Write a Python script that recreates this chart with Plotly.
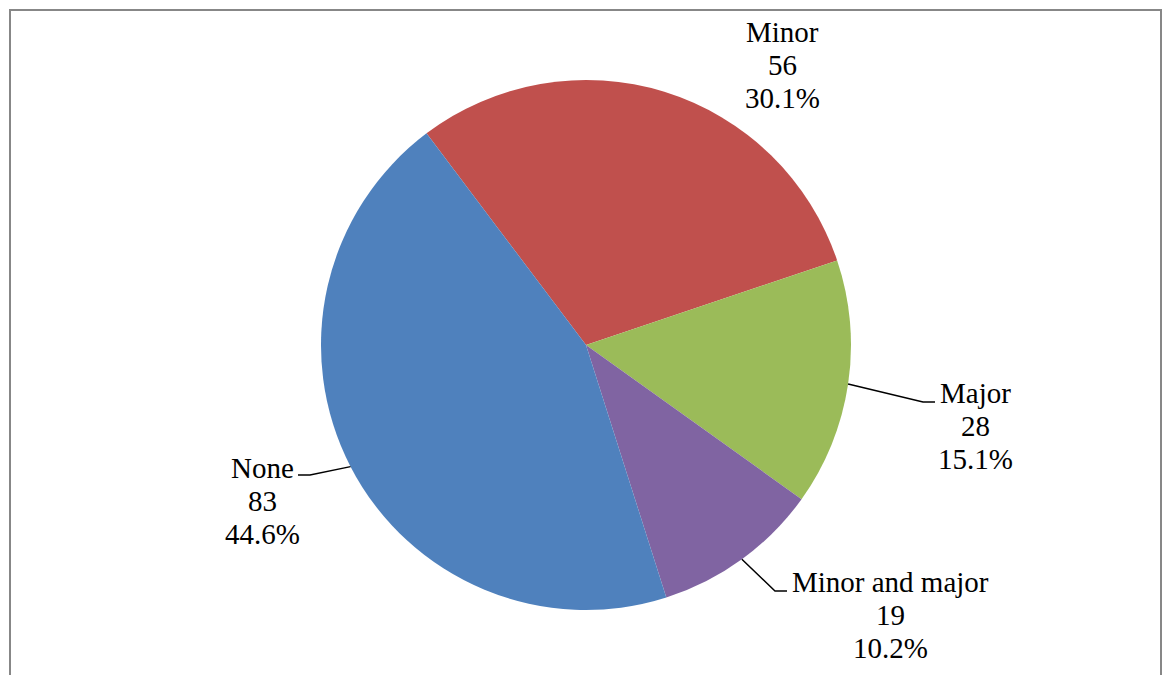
import math
import plotly.graph_objects as go

# Slice data (drawn clockwise starting from "Minor")
labels = ["Minor", "Major", "Minor and major", "None"]
counts = [56, 28, 19, 83]
colors = ["#C0504D", "#9BBB59", "#8064A2", "#4F81BD"]

W, H = 1163, 675
CX, CY, R = 586, 345, 265       # pie centre and radius in pixels
START_DEG = -37                 # angle of the first slice edge, clockwise from 12 o'clock
FONT = dict(family="Liberation Serif", size=29, color="black")
LINE_GAP = 33

# label block centres (px) and leader-line elbow points (px, None = no leader)
label_pos = {
    "Minor": (782, 32),
    "Major": (975, 393),
    "Minor and major": (890, 582),
    "None": (262, 468),
}
elbows = {
    "Minor": None,
    "Major": [(923, 402), (935, 402)],
    "Minor and major": [(775, 591), (787, 591)],
    "None": [(310, 475), (298, 475)],
}


def px(x):
    return x / W


def py(y):
    return 1 - y / H


total = sum(counts)
pcts = [round(100 * c / total, 1) for c in counts]

fig = go.Figure(go.Pie(
    labels=labels,
    values=counts,
    sort=False,
    direction="clockwise",
    rotation=START_DEG,
    marker=dict(colors=colors, line=dict(width=0)),
    textinfo="none",
    hoverinfo="label+value+percent",
    showlegend=False,
    domain=dict(x=[px(CX - R), px(CX + R)], y=[py(CY + R), py(CY - R)]),
))

annotations = []
shapes = []
angle = START_DEG
for lab, cnt, pct in zip(labels, counts, pcts):
    span = 360 * cnt / total
    mid = math.radians(angle + span / 2)
    angle += span
    lx, ly = label_pos[lab]
    for i, line in enumerate([lab, str(cnt), f"{pct:.1f}%"]):
        annotations.append(dict(
            x=px(lx), y=py(ly + i * LINE_GAP), xref="paper", yref="paper",
            text=line, showarrow=False, font=FONT,
            xanchor="center", yanchor="middle",
        ))
    if elbows[lab]:
        ex = CX + R * math.sin(mid)
        ey = CY - R * math.cos(mid)
        pts = [(ex, ey)] + elbows[lab]
        path = "M " + " L ".join(f"{px(a):.5f},{py(b):.5f}" for a, b in pts)
        shapes.append(dict(type="path", xref="paper", yref="paper", path=path,
                           line=dict(color="black", width=1.5)))

# chart frame (bottom edge runs past the visible area)
frame = [(10, 700), (10, 10), (1161, 10), (1161, 700)]
shapes.append(dict(
    type="path", xref="paper", yref="paper",
    path="M " + " L ".join(f"{px(a):.5f},{py(b):.5f}" for a, b in frame),
    line=dict(color="#878787", width=2),
))

fig.update_layout(
    width=W, height=H,
    margin=dict(l=0, r=0, t=0, b=0),
    paper_bgcolor="white",
    plot_bgcolor="white",
    annotations=annotations,
    shapes=shapes,
)

fig.write_html("out.html")
